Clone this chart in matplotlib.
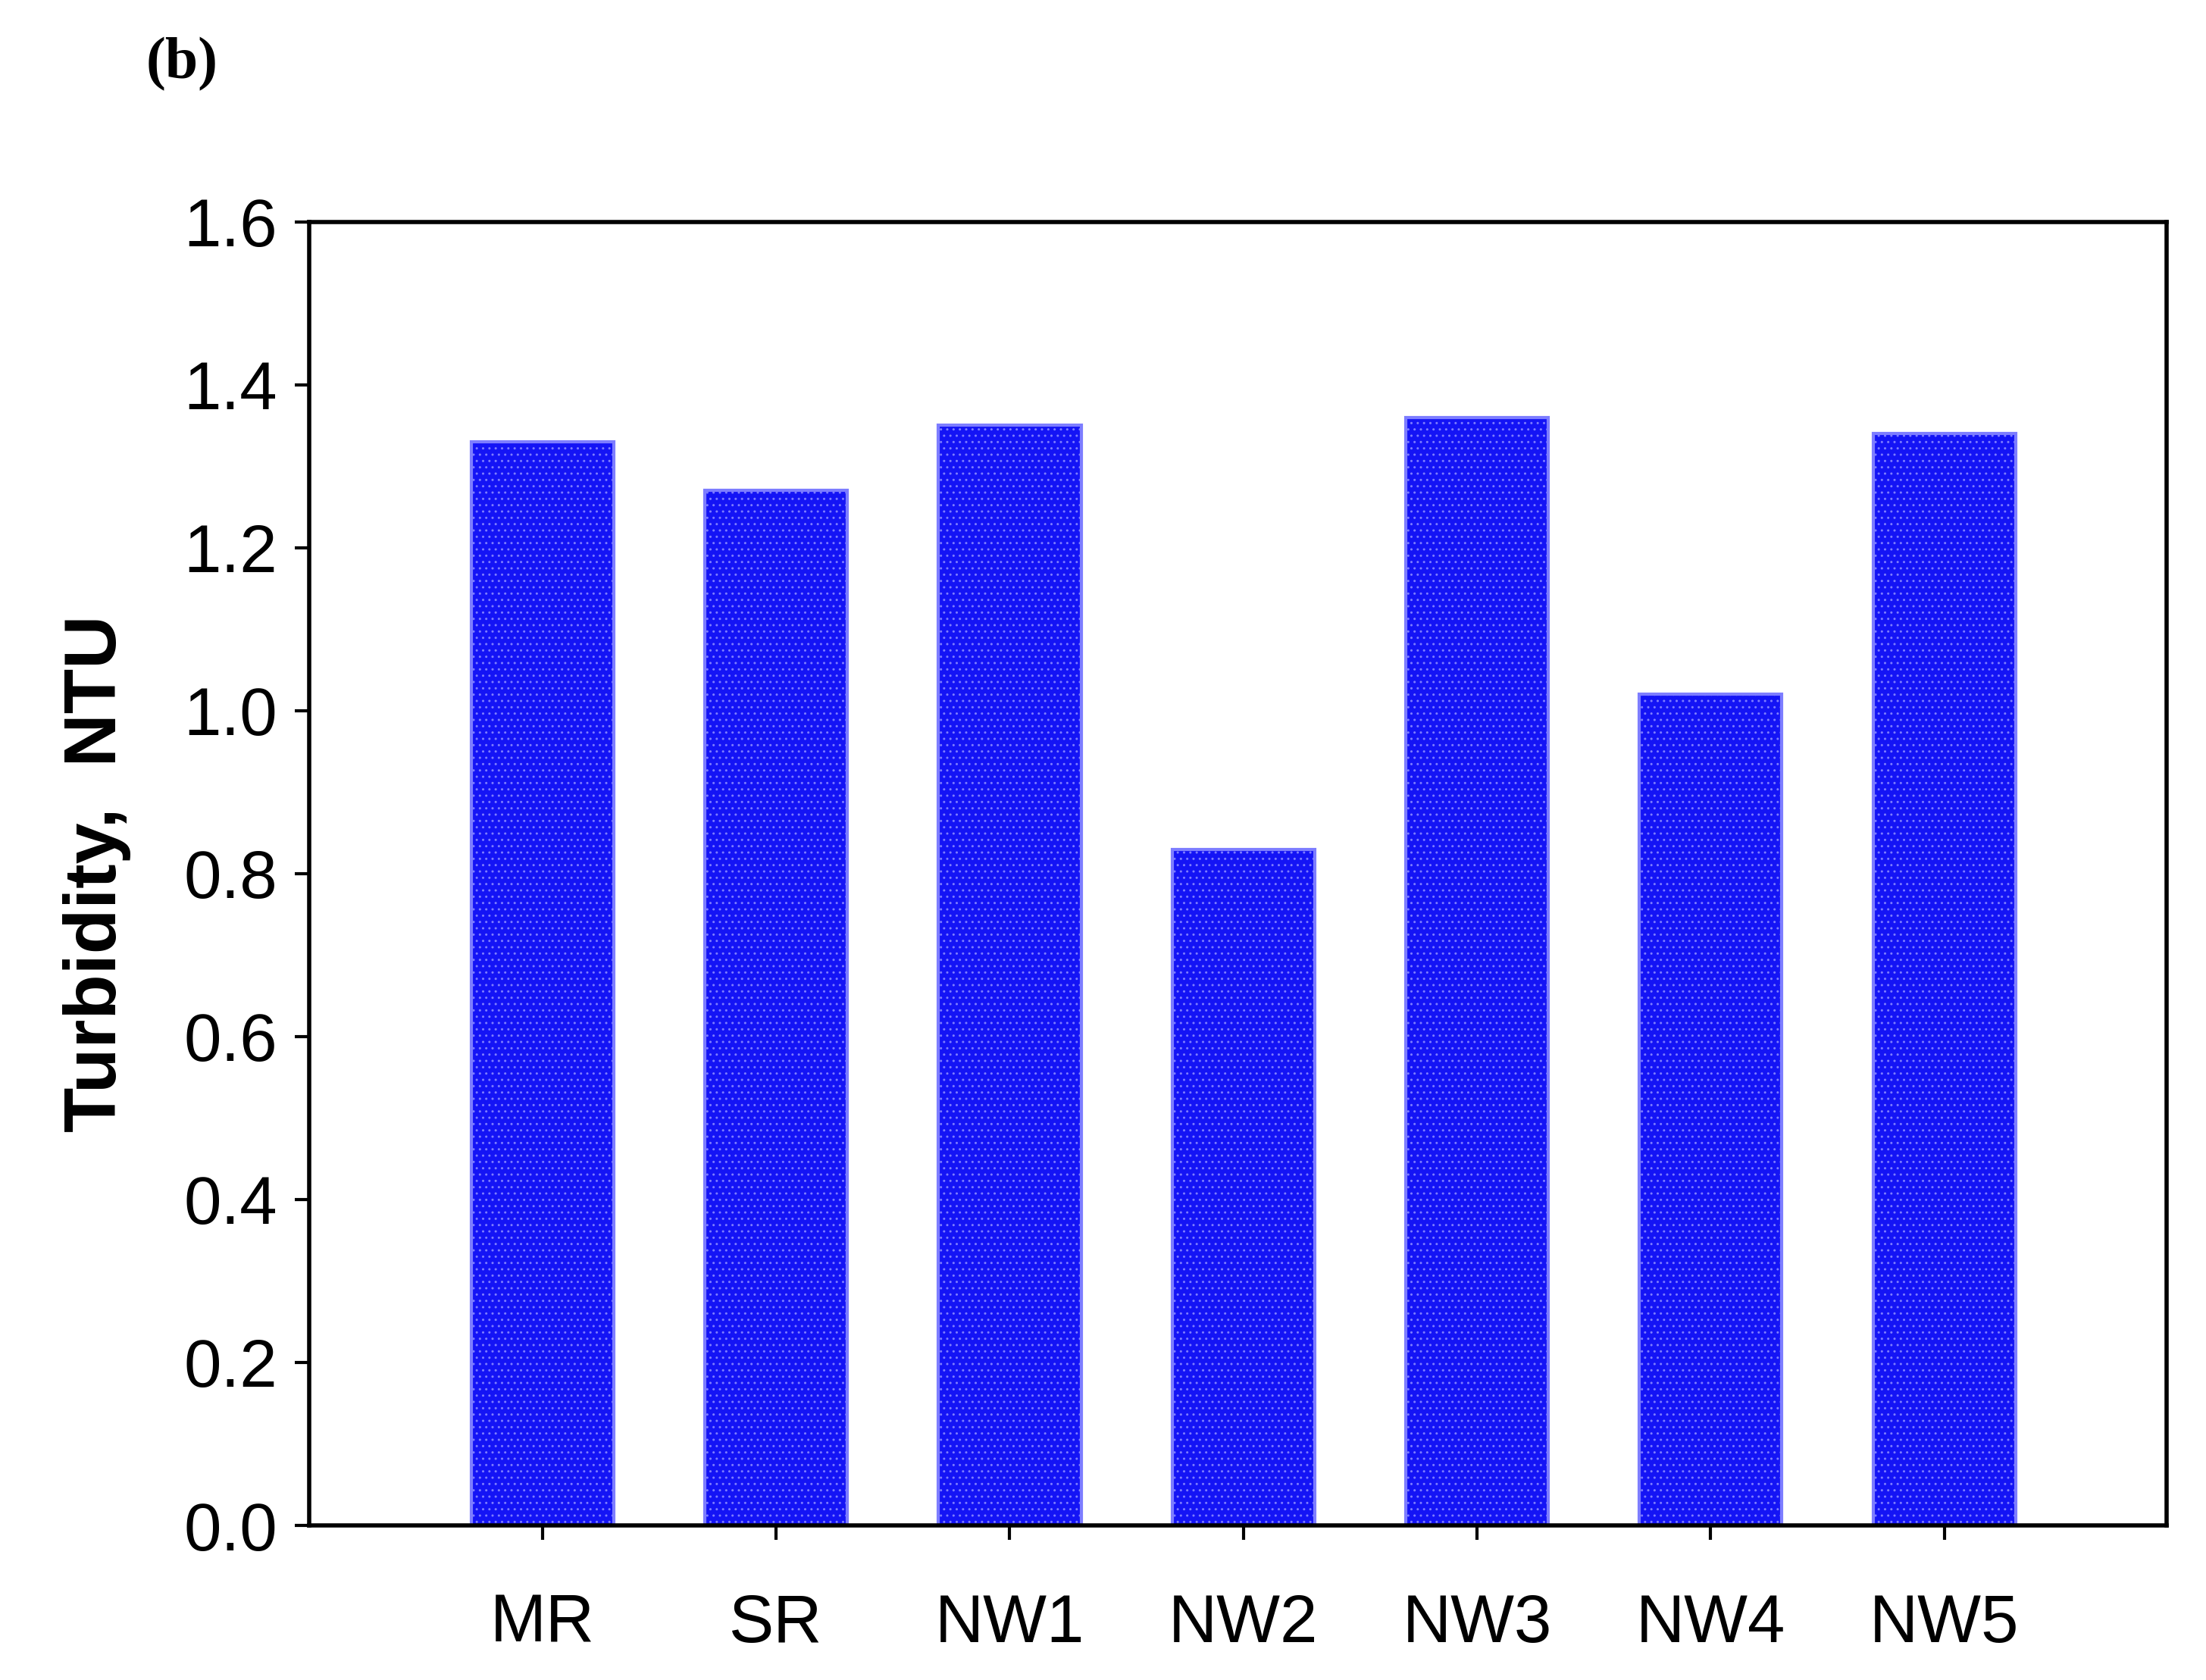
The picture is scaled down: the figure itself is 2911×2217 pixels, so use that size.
import matplotlib
matplotlib.use("Agg")
import matplotlib.pyplot as plt

categories = ["MR", "SR", "NW1", "NW2", "NW3", "NW4", "NW5"]
values = [1.33, 1.27, 1.35, 0.83, 1.36, 1.02, 1.34]
yticks = [0.0, 0.2, 0.4, 0.6, 0.8, 1.0, 1.2, 1.4, 1.6]

plt.rcParams['font.family'] = ['Liberation Sans', 'DejaVu Sans']
plt.rcParams['hatch.color'] = '#3a3aff'
fig = plt.figure(figsize=(29.11, 22.17), dpi=100)
ax = fig.add_axes([0.140, 0.092, 0.842, 0.776])
x = list(range(len(categories)))
ax.bar(x, values, width=0.61, color='#1414f5', edgecolor='#7d7dff', linewidth=3,
       hatch='..', zorder=2)
ax.set_xlim(-1.0, 6.95)
ax.set_ylim(0, 1.6)
ax.set_yticks(yticks)
ax.set_yticklabels([f"{v:.1f}" for v in yticks])
ax.set_xticks(x)
ax.set_xticklabels(categories)
ax.tick_params(axis='both', labelsize=64, width=3, length=14, direction='out', pad=16)
ax.tick_params(axis='x', pad=50)
for s in ax.spines.values():
    s.set_linewidth(4)
ax.set_ylabel("Turbidity,  NTU", fontsize=70, fontweight='bold', labelpad=50)
fig.text(0.066, 0.962, "(b)", fontsize=56, fontweight='bold', family='Liberation Serif',
         ha='left', va='center')
fig.savefig("out.png", dpi=100)
